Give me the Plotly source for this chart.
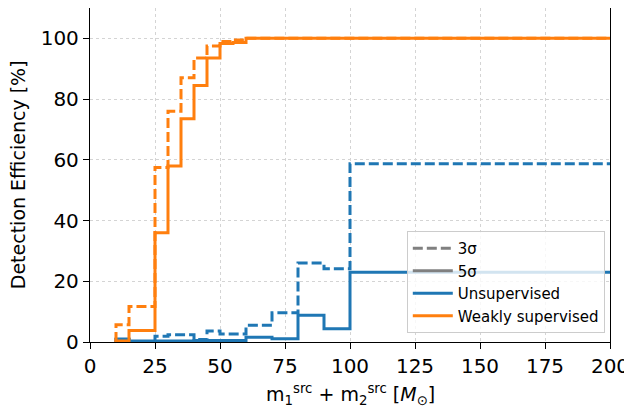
import plotly.graph_objects as go

# Bin edges (total source-frame mass, M_sun)
edges = [10, 15, 20, 25, 30, 35, 40, 45, 50, 55, 60, 65, 70, 75, 80, 85, 90, 95, 100, 200]

# Detection efficiency [%] per bin
weak_3sigma = [5.7, 11.7, 11.7, 57.5, 76, 87, 93.5, 97.5, 99, 99.5, 100, 100, 100, 100, 100, 100, 100, 100, 100]
weak_5sigma = [0.3, 3.8, 3.8, 36, 58, 73.5, 84.5, 93.5, 98.3, 98.6, 100, 100, 100, 100, 100, 100, 100, 100, 100]
unsup_3sigma = [0.8, 0.2, 0.2, 1.9, 2.4, 2.4, 0.8, 3.6, 2.6, 2.6, 5.5, 5.5, 9.6, 9.6, 26, 26, 24.1, 24.1, 58.7]
unsup_5sigma = [1.0, 0.3, 0.3, 0.3, 0.3, 0.3, 0.5, 0.5, 0.5, 0.5, 1.6, 1.6, 1.1, 1.1, 8.8, 8.8, 4.4, 4.4, 23]

BLUE = "#1f77b4"
ORANGE = "#ff7f0e"
DASH = "10px,4px"
LW = 3


def step_xy(vals):
    x = [edges[0]] + list(edges)
    y = [0] + list(vals) + [vals[-1]]
    return x, y


fig = go.Figure()
for vals, color, dash in [
    (unsup_3sigma, BLUE, DASH),
    (unsup_5sigma, BLUE, "solid"),
    (weak_3sigma, ORANGE, DASH),
    (weak_5sigma, ORANGE, "solid"),
]:
    x, y = step_xy(vals)
    fig.add_trace(go.Scatter(x=x, y=y, mode="lines", line=dict(color=color, width=LW, dash=dash, shape="hv"),
                             showlegend=False, hoverinfo="skip"))

# Legend proxies
for name, color, dash in [
    ("3σ", "gray", DASH),
    ("5σ", "gray", "solid"),
    ("Unsupervised", BLUE, "solid"),
    ("Weakly supervised", ORANGE, "solid"),
]:
    fig.add_trace(go.Scatter(x=[None], y=[None], mode="lines", name=name,
                             line=dict(color=color, width=LW, dash=dash)))

axis_common = dict(
    showline=True, linecolor="black", linewidth=1.3, mirror=True,
    ticks="outside", ticklen=6, tickwidth=1.3, tickcolor="black",
    showgrid=True, gridcolor="#d4d4d4", griddash="dot", gridwidth=1,
    zeroline=False, tickfont=dict(size=20, color="black"), automargin=False,
)

# The page places the figure 8px from the top-left corner, so the figure is sized to fit the window.
fig.update_layout(
    width=624, height=399,
    margin=dict(l=82, r=22, t=0, b=65),
    paper_bgcolor="white", plot_bgcolor="white",
    font=dict(family="DejaVu Sans", color="black"),
    xaxis=dict(range=[0, 200], tickvals=[0, 25, 50, 75, 100, 125, 150, 175, 200], **axis_common),
    yaxis=dict(range=[0, 110], tickvals=[0, 20, 40, 60, 80, 100], **axis_common),
    legend=dict(x=0.99, xanchor="right", y=0.027, yanchor="bottom",
                bgcolor="rgba(255,255,255,0.8)", bordercolor="#cccccc", borderwidth=1,
                font=dict(size=15, color="black"), tracegroupgap=0, itemwidth=40),
    annotations=[
        dict(text="m<sub>1</sub><sup>src</sup> + m<sub>2</sub><sup>src</sup> [<i>M</i><sub>⊙</sub>]",
             xref="paper", yref="paper", x=0.5, y=-0.156, xanchor="center", yanchor="middle",
             showarrow=False, font=dict(size=19, color="black")),
        dict(text="Detection Efficiency [%]", xref="paper", yref="paper", x=-0.138, y=0.5,
             xanchor="center", yanchor="middle", textangle=-90,
             showarrow=False, font=dict(size=19, color="black")),
    ],
)

fig.write_html("out.html")
